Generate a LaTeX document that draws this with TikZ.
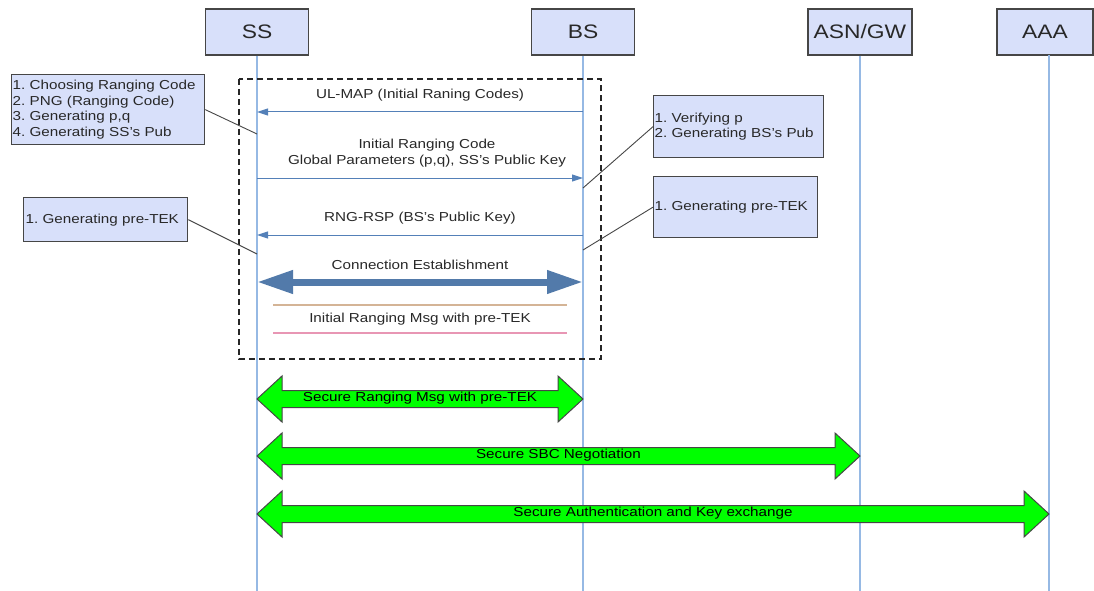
\documentclass[tikz,border=0pt]{standalone}
\usepackage{fontspec}
\setmainfont{Liberation Sans}[FakeStretch=1.17]
\usetikzlibrary{arrows.meta,calc}
\definecolor{boxfill}{RGB}{216,224,250}
\definecolor{boxdraw}{RGB}{70,70,70}
\definecolor{lifec}{RGB}{150,185,228}
\definecolor{msgc}{RGB}{84,128,184}
\definecolor{connc}{RGB}{82,122,170}
\definecolor{tanc}{RGB}{212,180,150}
\definecolor{pinkc}{RGB}{232,150,180}
\definecolor{txtc}{RGB}{40,40,40}
\definecolor{gfill}{RGB}{0,255,0}
\frenchspacing
\tikzset{
  hdr/.style={draw=boxdraw, line width=1.3pt, fill=boxfill, minimum width=103pt, minimum height=46pt, inner sep=0pt, font=\fontsize{19.5}{22}\selectfont, text=txtc},
  note/.style={draw=boxdraw, line width=1.3pt, fill=boxfill, inner xsep=1pt, inner ysep=0pt, align=left, font=\fontsize{13}{15.7}\selectfont, text=txtc, anchor=north west},
  life/.style={draw=lifec, line width=1.2pt},
  msg/.style={draw=msgc, line width=1pt, -{Triangle[length=11pt,width=7pt]}},
  conn/.style={draw=connc, line width=7pt, {Triangle[length=36pt,width=22pt]}-{Triangle[length=36pt,width=22pt]}},
  lbl/.style={font=\fontsize{13}{15.7}\selectfont, text=txtc, inner sep=0pt, align=center},
  callout/.style={draw=boxdraw, line width=0.9pt},
  garr/.style={draw=boxdraw, line width=1pt, fill=gfill, line join=miter},
  glbl/.style={font=\fontsize{13}{15}\selectfont, text=black, inner sep=0pt},
  frame/.style={draw=black!85, line width=1.4pt, dash pattern=on 6pt off 4pt}
}
\newcommand\garrow[3]{%
  \draw[garr] (#1) -- ($(#1)+(25,23)$) -- ($(#1)+(25,8.5)$) -- ($(#2)+(-25,8.5)$) -- ($(#2)+(-25,23)$) -- (#2) -- ($(#2)+(-25,-23)$) -- ($(#2)+(-25,-8.5)$) -- ($(#1)+(25,-8.5)$) -- ($(#1)+(25,-23)$) -- cycle;
  \node[glbl] at ($(#1)!0.5!(#2)+(0,-1)$) {#3};}
\begin{document}
\begin{tikzpicture}[x=1pt,y=-1pt]
\path[use as bounding box, fill=white] (0,0) rectangle (1094,591);

% header boxes
\node[hdr] (SS) at (257,32) {SS};
\node[hdr] (BS) at (583,32) {BS};
\node[hdr, minimum width=104pt] (ASN) at (860,32) {ASN/GW};
\node[hdr, minimum width=96pt] (AAA) at (1045,32) {AAA};

% lifelines
\coordinate (ssEnd) at (257,591);
\coordinate (bsEnd) at (583,591);
\coordinate (asnEnd) at (860,591);
\coordinate (aaaTop) at (1049,55);
\coordinate (aaaEnd) at (1049,591);
\draw[life] (SS.south) -- (ssEnd);
\draw[life] (BS.south) -- (bsEnd);
\draw[life] (ASN.south) -- (asnEnd);
\draw[life] (aaaTop) -- (aaaEnd);

% dashed frame
\coordinate (frTL) at (239,79);
\coordinate (frBR) at (601,359);
\draw[frame] (frTL) rectangle (frBR);

% messages
\coordinate (bs1) at (583,112); \coordinate (ss1) at (257,112);
\draw[msg] (bs1) -- (ss1);
\node[lbl] (l1) at (420,95) {UL-MAP (Initial Raning Codes)};

\coordinate (ss2) at (257,178); \coordinate (bs2) at (583,178);
\draw[msg] (ss2) -- (bs2);
\node[lbl] (l2a) at (427,145) {Initial Ranging Code};
\node[lbl] (l2b) at (427,161) {Global Parameters (p,q), SS's Public Key};

\coordinate (bs3) at (583,235); \coordinate (ss3) at (257,235);
\draw[msg] (bs3) -- (ss3);
\node[lbl] (l3) at (420,218) {RNG-RSP (BS's Public Key)};

\coordinate (ss4) at (257,282); \coordinate (bs4) at (583,282);
\draw[conn] (ss4) -- (bs4);
\node[lbl] (l4) at (420,265) {Connection Establishment};

\coordinate (t1) at (273,305); \coordinate (t2) at (567,305);
\draw[draw=tanc, line width=1.2pt] (t1) -- (t2);
\coordinate (p1) at (273,333); \coordinate (p2) at (567,333);
\draw[draw=pinkc, line width=1.2pt] (p1) -- (p2);
\node[lbl] (l5) at (420,319) {Initial Ranging Msg with pre-TEK};

% notes
\node[note, minimum width=193pt, minimum height=70pt, text width=191pt] (n1) at (11,74)
  {1. Choosing Ranging Code\\2. PNG (Ranging Code)\\3. Generating p,q\\4. Generating SS's Pub};
\node[note, minimum width=170pt, minimum height=62pt, text width=168pt] (n2) at (653,95)
  {1. Verifying p\\2. Generating BS's Pub};
\node[note, minimum width=164pt, minimum height=61pt, text width=162pt] (n3) at (653,176)
  {1. Generating pre-TEK};
\node[note, minimum width=164pt, minimum height=44pt, text width=160pt, inner xsep=2pt] (n4) at (23,197)
  {1. Generating pre-TEK};

\coordinate (c1) at (257,134);
\coordinate (c2) at (583,188);
\coordinate (c3) at (583,250);
\coordinate (c4) at (257,254);
\draw[callout] (n1.east) -- (c1);
\draw[callout] (n2.west) -- (c2);
\draw[callout] (n3.west) -- (c3);
\draw[callout] (n4.east) -- (c4);

% green double arrows
\coordinate (g1a) at (257,399); \coordinate (g1b) at (583,399);
\coordinate (g2a) at (257,456); \coordinate (g2b) at (860,456);
\coordinate (g3a) at (257,514); \coordinate (g3b) at (1049,514);
\garrow{g1a}{g1b}{Secure Ranging Msg with pre-TEK}
\garrow{g2a}{g2b}{Secure SBC Negotiation}
\garrow{g3a}{g3b}{Secure Authentication and Key exchange}
\end{tikzpicture}
\end{document}
